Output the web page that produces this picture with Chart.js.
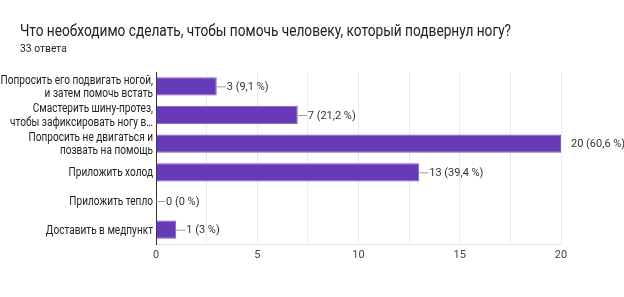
<!DOCTYPE html>
<html>
<head>
<meta charset="utf-8">
<script src="https://cdn.jsdelivr.net/npm/chart.js@4"></script>
<style>
  body { margin: 0; background: #fff; font-family: Roboto, Arial, sans-serif; }
  #wrap { position: relative; width: 624px; height: 297px; }
  #title { position: absolute; left: 20px; top: 21px; font-size: 16px; color: #202124; white-space: nowrap;
           transform: scaleX(0.855); transform-origin: left top; }
  #sub { position: absolute; left: 20px; top: 41px; font-size: 11.5px; color: #202124; white-space: nowrap;
         transform: scaleX(0.9); transform-origin: left top; }
  canvas { position: absolute; left: 0; top: 0; }
</style>
</head>
<body>
<div id="wrap">
  <canvas id="chart" width="624" height="297"></canvas>
  <div id="title">Что необходимо сделать, чтобы помочь человеку, который подвернул ногу?</div>
  <div id="sub">33 ответа</div>
</div>
<script>
// варианты ответа и количество ответов
const labels = [
    ['Попросить его подвигать ногой,', 'и затем помочь встать'],
    ['Смастерить шину-протез,', 'чтобы зафиксировать ногу в…'],
    ['Попросить не двигаться и', 'позвать на помощь'],
    'Приложить холод',
    'Приложить тепло',
    'Доставить в медпункт'
];
const counts = [3, 7, 20, 13, 0, 1];
const percents = ['9,1 %', '21,2 %', '60,6 %', '39,4 %', '0 %', '3 %'];
const xTicks = [0, 5, 10, 15, 20];

// подписи значений с короткой линией-выноской
const valueLabels = {
    id: 'valueLabels',
    afterDatasetsDraw(chart) {
        const ctx = chart.ctx;
        const meta = chart.getDatasetMeta(0);
        const xScale = chart.scales.x;
        ctx.save();
        ctx.font = '11px Roboto, Arial, sans-serif';
        ctx.textBaseline = 'middle';
        ctx.fillStyle = '#333';
        meta.data.forEach((bar, i) => {
            const x = bar.x;
            const y = bar.y;
            const atMax = counts[i] >= xScale.max;
            if (!atMax) {
                ctx.strokeStyle = '#9e9e9e';
                ctx.lineWidth = 1;
                ctx.beginPath();
                ctx.moveTo(x, y + 0.5);
                ctx.lineTo(x + 9, y + 0.5);
                ctx.stroke();
            }
            ctx.fillText(counts[i] + ' (' + percents[i] + ')', x + 10, y + 1);
        });
        ctx.restore();
    }
};

// подписи категорий: сжатый по ширине шрифт, как в оригинале
const yLabels = {
    id: 'yLabels',
    afterDraw(chart) {
        const ctx = chart.ctx;
        const yScale = chart.scales.y;
        const right = yScale.right - 3;
        const k = 0.82;
        ctx.save();
        ctx.font = '12.3px Roboto, Arial, sans-serif';
        ctx.fillStyle = '#222';
        ctx.textAlign = 'right';
        ctx.textBaseline = 'middle';
        ctx.scale(k, 1);
        labels.forEach((lab, i) => {
            const lines = Array.isArray(lab) ? lab : [lab];
            const cy = yScale.getPixelForTick(i);
            const lh = 13.5;
            lines.forEach((t, j) => {
                const y = cy + (j - (lines.length - 1) / 2) * lh;
                ctx.fillText(t, right / k, y + 1);
            });
        });
        ctx.restore();
    }
};

new Chart(document.getElementById('chart'), {
    type: 'bar',
    data: {
        labels,
        datasets: [{
            data: counts,
            backgroundColor: '#673ab7',
            borderColor: '#7e5cc4',
            borderWidth: 1,
            borderSkipped: 'left',
            categoryPercentage: 0.64,
            barPercentage: 1
        }]
    },
    options: {
        indexAxis: 'y',
        responsive: false,
        animation: false,
        layout: { padding: { left: 0, top: 72, right: 63, bottom: 0 } },
        plugins: {
            legend: { display: false },
            tooltip: { enabled: false }
        },
        scales: {
            x: {
                min: 0,
                max: 20,
                afterFit: s => { s.height = 53; },
                afterBuildTicks: s => {
                    s.ticks = [];
                    for (let v = 0; v <= 20; v += 2.5) s.ticks.push({ value: v });
                },
                ticks: {
                    padding: 5,
                    color: '#444',
                    font: { family: 'Roboto, Arial, sans-serif', size: 11 },
                    callback: v => xTicks.includes(v) ? v : ''
                },
                grid: { color: '#ececec', drawTicks: false },
                border: { color: '#e6e6e6' }
            },
            y: {
                afterFit: s => { s.width = 156; },
                ticks: { display: false },
                grid: { display: false, drawTicks: false },
                border: { color: '#333', width: 1 }
            }
        }
    },
    plugins: [valueLabels, yLabels]
});
</script>
</body>
</html>
